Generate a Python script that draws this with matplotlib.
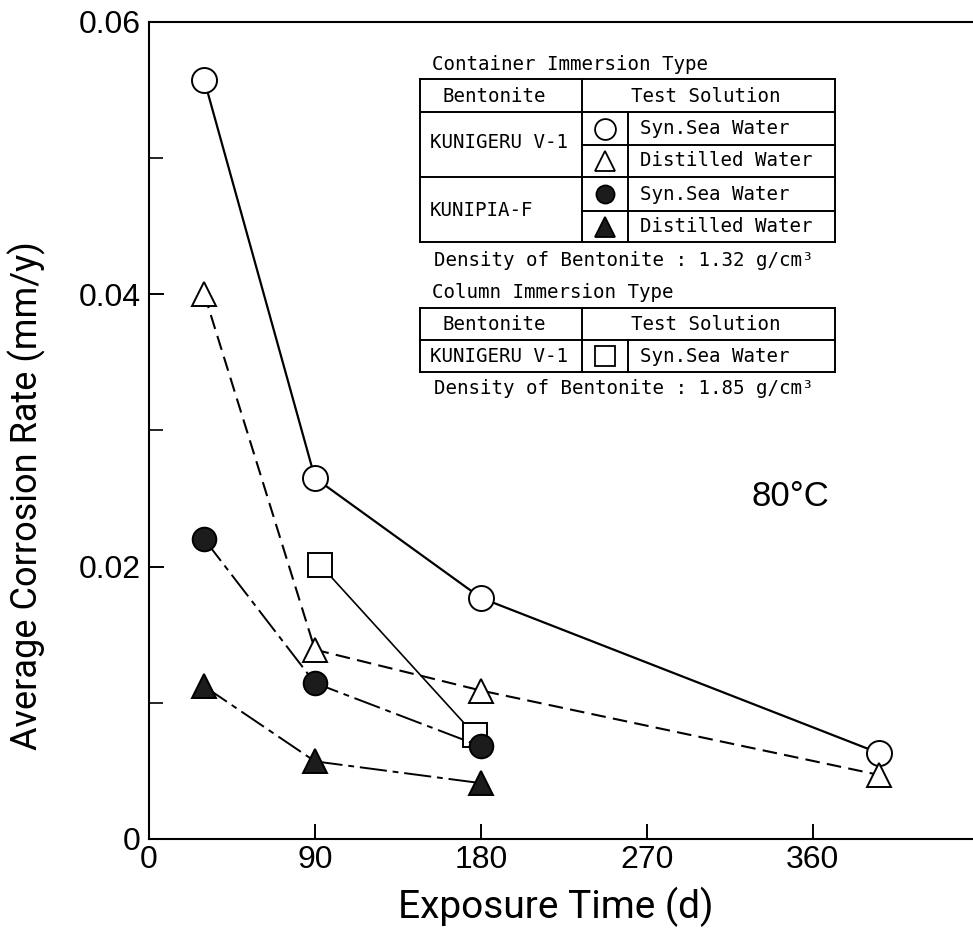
import matplotlib
matplotlib.use("Agg")
import matplotlib.pyplot as plt
from matplotlib.lines import Line2D

# ---------------- data ----------------
days_all = [30, 90, 180, 396]
days_short = [30, 90, 180]
kv1_sea = [0.0557, 0.0265, 0.0177, 0.0063]        # KUNIGERU V-1, Syn. Sea Water (container)
kv1_dist = [0.0400, 0.0139, 0.0109, 0.0047]       # KUNIGERU V-1, Distilled Water (container)
kf_sea = [0.0220, 0.01145, 0.0068]                # KUNIPIA-F, Syn. Sea Water
kf_dist = [0.0112, 0.0057, 0.0041]                # KUNIPIA-F, Distilled Water
col_days = [93, 177]
col_sea = [0.0201, 0.0076]                        # Column type, KUNIGERU V-1, Syn. Sea Water

xticks = [0, 90, 180, 270, 360]
xtick_labels = ["0", "90", "180", "270", "360"]
yticks = [0, 0.02, 0.04, 0.06]
ytick_labels = ["0", "0.02", "0.04", "0.06"]
yminor = [0.01, 0.03, 0.05]

xlabel = "Exposure Time (d)"
ylabel = "Average Corrosion Rate (mm/y)"
temp_label = "80°C"

tbl1_title = "Container Immersion Type"
tbl_head = ["Bentonite", "Test Solution"]
tbl1_bentonite = ["KUNIGERU V-1", "KUNIPIA-F"]
tbl1_solutions = ["Syn.Sea Water", "Distilled Water", "Syn.Sea Water", "Distilled Water"]
tbl1_note = "Density of Bentonite : 1.32 g/cm³"
tbl2_title = "Column Immersion Type"
tbl2_bentonite = ["KUNIGERU V-1"]
tbl2_solutions = ["Syn.Sea Water"]
tbl2_note = "Density of Bentonite : 1.85 g/cm³"

# ---------------- figure ----------------
W, H = 973, 950
fig = plt.figure(figsize=(W / 100, H / 100), dpi=100)
x0, x1, y0, y1 = 149, 973, 839, 21.7
ax = fig.add_axes([x0 / W, (H - y0) / H, (x1 - x0) / W, (y0 - y1) / H])
ax.set_xlim(0, (x1 - x0) / 1.844)
ax.set_ylim(0, 0.06)

tickfont = ["Liberation Sans", "DejaVu Sans"]
labfont = ["Roboto", "DejaVu Sans"]
monofont = ["DejaVu Sans Mono"]

fill = "#1c1c1c"
ms_c, ms_t, ms_s = 18, 17, 17
mew = 1.4

ax.plot(col_days, col_sea, color="black", lw=1.2, marker="s", ms=ms_s,
        mfc="white", mec="black", mew=mew, zorder=2)
ax.plot(days_all, kv1_sea, color="black", lw=1.6, ls="-", marker="o", ms=ms_c,
        mfc="white", mec="black", mew=mew, zorder=3)
ax.plot(days_all, kv1_dist, color="black", lw=1.5, ls=(0, (7, 3.5)), marker="^", ms=ms_t,
        mfc="white", mec="black", mew=mew, zorder=3)
ax.plot(days_short, kf_sea, color="black", lw=1.4, ls=(0, (14, 3, 3, 3)), marker="o", ms=17,
        mfc=fill, mec="black", mew=mew, zorder=4)
ax.plot(days_short, kf_dist, color="black", lw=1.4, ls=(0, (14, 3, 3, 3)), marker="^", ms=ms_t,
        mfc=fill, mec="black", mew=mew, zorder=4)

for s in ["left", "bottom", "top"]:
    ax.spines[s].set_linewidth(1.5)
ax.spines["right"].set_visible(False)

ax.set_xticks(xticks)
ax.set_xticklabels(xtick_labels, family=tickfont, fontsize=23)
ax.set_yticks(yticks)
ax.set_yticklabels(ytick_labels, family=tickfont, fontsize=23)
ax.set_yticks(yminor, minor=True)
ax.tick_params(axis="both", which="major", direction="in", length=11, width=1.4)
ax.tick_params(axis="y", which="minor", direction="in", length=10, width=1.2)
ax.tick_params(axis="x", which="major", pad=4)
ax.tick_params(axis="y", which="major", pad=6)
ax.tick_params(top=False, right=False)

ax.set_xlabel(xlabel, family=labfont, fontsize=28)
ax.xaxis.set_label_coords((556 - x0) / (x1 - x0), (y0 - 887) / (y0 - y1))
ax.set_ylabel(ylabel, family=labfont, fontsize=26)
ax.yaxis.set_label_coords((46 - x0) / (x1 - x0), (y0 - 496) / (y0 - y1))

ax.text((790 - x0) / (x1 - x0), (y0 - 497) / (y0 - y1), temp_label,
        transform=ax.transAxes, ha="center", va="center", family=tickfont, fontsize=25)

# ---------------- legend tables (figure pixel overlay) ----------------
ov = fig.add_axes([0, 0, 1, 1], zorder=5)
ov.set_xlim(0, W)
ov.set_ylim(H, 0)
ov.axis("off")
ov.patch.set_alpha(0)

L, C1, C2, R = 420, 582, 628, 835
lw_t = 1.4
fs = 13.8


def hline(y, xa, xb):
    ov.add_line(Line2D([xa, xb], [y, y], color="black", lw=lw_t))


def vline(x, ya, yb):
    ov.add_line(Line2D([x, x], [ya, yb], color="black", lw=lw_t))


def txt(x, y, s, ha="left"):
    ov.text(x, y, s, ha=ha, va="center", family=monofont, fontsize=fs)


# table 1
txt(432, 64, tbl1_title)
top, hdr, bot = 79, 112, 242
rows1 = [112, 145, 177, 211, 242]
hline(top, L, R)
hline(hdr, L, R)
hline(177, L, R)
hline(145, C1, R)
hline(211, C1, R)
hline(bot, L, R)
vline(L, top, bot)
vline(R, top, bot)
vline(C1, top, bot)
vline(C2, hdr, bot)
txt(494, 96, tbl_head[0], ha="center")
txt(706, 96, tbl_head[1], ha="center")
txt(430, 143, tbl1_bentonite[0])
txt(430, 210, tbl1_bentonite[1])
sym_styles = [("o", "white", 15), ("^", "white", 15), ("o", fill, 13), ("^", fill, 15)]
for i, (sol, (mk, fc, sz)) in enumerate(zip(tbl1_solutions, sym_styles)):
    yc = (rows1[i] + rows1[i + 1]) / 2
    ov.plot([605], [yc], marker=mk, ms=sz, mfc=fc, mec="black", mew=1.3, ls="none")
    txt(640, yc, sol)
txt(434, 261, tbl1_note)

# table 2
txt(432, 293, tbl2_title)
t2, m2, b2 = 308, 340, 372
hline(t2, L, R)
hline(m2, L, R)
hline(b2, L, R)
vline(L, t2, b2)
vline(R, t2, b2)
vline(C1, t2, b2)
vline(C2, m2, b2)
txt(494, 324, tbl_head[0], ha="center")
txt(706, 324, tbl_head[1], ha="center")
txt(430, 356, tbl2_bentonite[0])
ov.plot([605], [356], marker="s", ms=14, mfc="white", mec="black", mew=1.3, ls="none")
txt(640, 356, tbl2_solutions[0])
txt(434, 388, tbl2_note)

fig.savefig("out.png", dpi=100)
